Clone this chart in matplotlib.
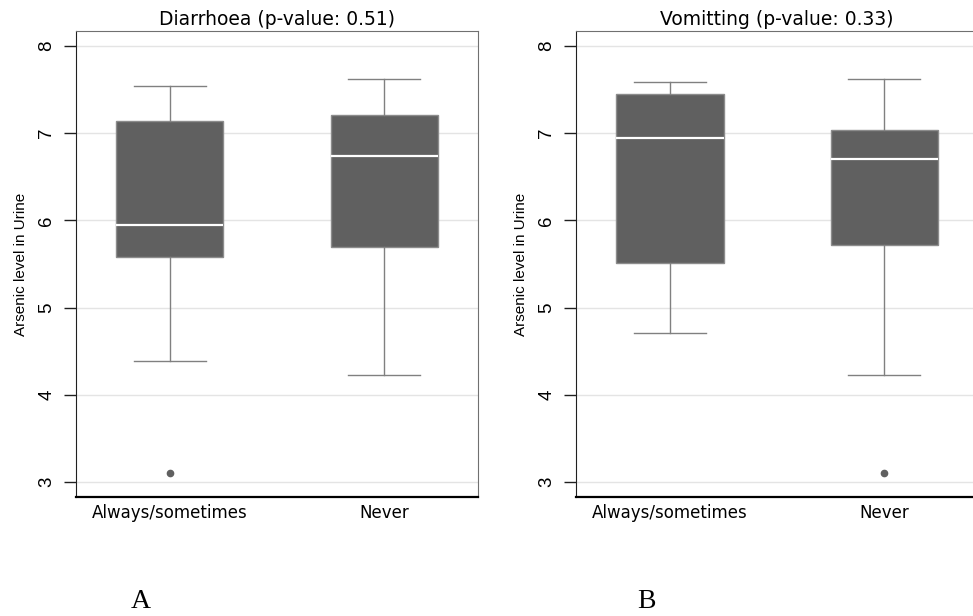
import matplotlib
matplotlib.use('Agg')
import matplotlib.pyplot as plt

groups = ['Always/sometimes', 'Never']

# Diarrhoea panel (A)
dia_whislo = [4.39, 4.23]
dia_q1 = [5.58, 5.69]
dia_med = [5.95, 6.74]
dia_q3 = [7.14, 7.21]
dia_whishi = [7.54, 7.62]
dia_fliers = [[3.11], []]

# Vomiting panel (B)
vom_whislo = [4.71, 4.23]
vom_q1 = [5.51, 5.72]
vom_med = [6.94, 6.70]
vom_q3 = [7.45, 7.04]
vom_whishi = [7.58, 7.62]
vom_fliers = [[], [3.11]]

titles = ['Diarrhoea (p-value: 0.51)', 'Vomitting (p-value: 0.33)']
panel_letters = ['A', 'B']
ylabel = 'Arsenic level in Urine'
yticks = [3, 4, 5, 6, 7, 8]

fig = plt.figure(figsize=(9.73, 6.16), dpi=100)
ax_a = fig.add_axes([0.0781, 0.1932, 0.4132, 0.7565])
ax_b = fig.add_axes([0.592, 0.1932, 0.4132, 0.7565])

panels = [
    (ax_a, dia_whislo, dia_q1, dia_med, dia_q3, dia_whishi, dia_fliers),
    (ax_b, vom_whislo, vom_q1, vom_med, vom_q3, vom_whishi, vom_fliers),
]

for i, (ax, lo, q1, med, q3, hi, fl) in enumerate(panels):
    stats = []
    for j, g in enumerate(groups):
        stats.append(dict(label=g, whislo=lo[j], q1=q1[j], med=med[j],
                          q3=q3[j], whishi=hi[j], fliers=fl[j]))
    ax.bxp(stats, positions=[1, 2], widths=0.5, patch_artist=True,
           capwidths=0.336,
           boxprops=dict(facecolor='#606060', edgecolor='#8c8c8c', linewidth=1),
           medianprops=dict(color='white', linewidth=1.6),
           whiskerprops=dict(color='#808080', linewidth=1),
           capprops=dict(color='#808080', linewidth=1),
           flierprops=dict(marker='o', markersize=4.5, markerfacecolor='#606060',
                           markeredgecolor='#606060'))
    ax.set_xlim(0.561, 2.439)
    ax.set_ylim(2.83, 8.17)
    ax.set_yticks(yticks)
    ax.set_yticklabels([str(t) for t in yticks], rotation=90, va='center',
                       family=['Liberation Sans', 'DejaVu Sans'], fontsize=13.5)
    ax.grid(axis='y', color='#e4e4e4', linewidth=1)
    ax.set_axisbelow(True)
    ax.tick_params(axis='y', length=9, width=1, color='#202020', pad=6)
    ax.tick_params(axis='x', length=0, pad=5, labelsize=12)
    for lab in ax.get_xticklabels():
        lab.set_family(['DejaVu Sans'])
    ax.spines['left'].set_color('#202020')
    ax.spines['bottom'].set_color('#000000')
    ax.spines['bottom'].set_linewidth(1.6)
    ax.spines['top'].set_color('#707070')
    ax.spines['right'].set_color('#707070')
    ax.set_title(titles[i], fontsize=13.5, pad=4, family=['DejaVu Sans'])
    ax.set_ylabel(ylabel, fontsize=11, labelpad=7,
                  family=['Liberation Sans Narrow', 'Liberation Sans', 'DejaVu Sans'])

# the right panel runs off the edge of the figure
ax_b.spines['right'].set_visible(False)

fig.text(141 / 973, 1 - 601 / 616, panel_letters[0], ha='center', va='center',
         fontsize=20, family=['Liberation Serif', 'DejaVu Serif'])
fig.text(646 / 973, 1 - 601 / 616, panel_letters[1], ha='center', va='center',
         fontsize=20, family=['Liberation Serif', 'DejaVu Serif'])

fig.savefig('out.png', dpi=100)
